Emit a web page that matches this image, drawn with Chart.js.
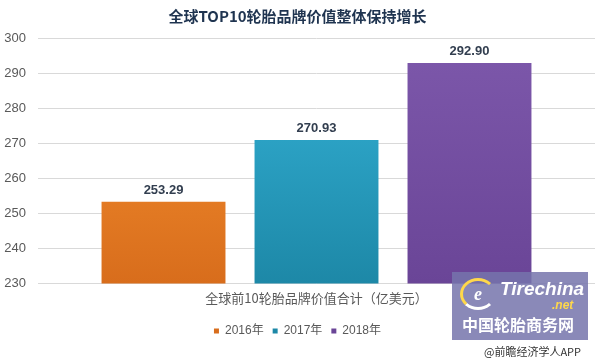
<!DOCTYPE html>
<html>
<head>
<meta charset="utf-8">
<script src="https://cdn.jsdelivr.net/npm/chart.js@4.4.0/dist/chart.umd.min.js"></script>
<style>
    body { margin: 0; background: #fff; font-family: "Noto Sans CJK SC", "Liberation Sans", sans-serif; }
    #wrap { position: relative; width: 600px; height: 361px; }
    .logo-box {
        position: absolute; left: 452px; top: 272px; width: 136px; height: 68px;
        background: rgba(118, 116, 172, 0.85);
    }
    .logo-e {
        position: absolute; left: 8px; top: 6px; width: 30px; height: 26px; border-radius: 50%;
        border: 3px solid #ffd84a; border-right-color: transparent; border-bottom-color: #fff;
        color: #fff; font: italic bold 18px "Liberation Serif", serif; text-align: center; line-height: 26px;
    }
    .logo-en {
        position: absolute; left: 48px; top: 6px; color: #fff; font: italic bold 19px "Liberation Sans", sans-serif;
    }
    .logo-en span { color: #ffd84a; font-size: 12px; position: absolute; left: 52px; top: 20px; }
    .logo-cn {
        position: absolute; left: 10px; top: 40px; color: #fff; font: bold 16px "Noto Sans CJK SC", sans-serif;
    }
    .app {
        position: absolute; left: 484px; top: 343px; color: #333; font: 11px "Noto Sans CJK SC", sans-serif;
    }
</style>
</head>
<body>
<div id="wrap">
    <canvas id="myChart" width="600" height="361"></canvas>
    <div class="logo-box">
        <div class="logo-e">e</div>
        <div class="logo-en">Tirechina<span>.net</span></div>
        <div class="logo-cn">中国轮胎商务网</div>
    </div>
    <div class="app">@前瞻经济学人APP</div>
</div>
<script>
let categories = ['全球前10轮胎品牌价值合计（亿美元）'];
let years = ['2016年', '2017年', '2018年'];
let brandValues = [253.29, 270.93, 292.90];
let yTicks = [230, 240, 250, 260, 270, 280, 290, 300];

let topColors = ['#f99532', '#35b3d8', '#7d58ab'];
let bottomColors = ['#d86d1c', '#1d88a7', '#6a4597'];

// ================================================================== Gradient
function barGradient(context, i) {
    let chart = context.chart;
    let area = chart.chartArea;
    if (!area) {
        return topColors[i];
    }
    let g = chart.ctx.createLinearGradient(0, area.top, 0, area.bottom);
    g.addColorStop(0, topColors[i]);
    g.addColorStop(1, bottomColors[i]);
    return g;
}

// ================================================================== Value labels
let valueLabels = {
    id: 'valueLabels',
    afterDatasetsDraw(chart) {
        let ctx = chart.ctx;
        ctx.save();
        ctx.font = 'bold 13px "Liberation Sans", sans-serif';
        ctx.fillStyle = '#323e4f';
        ctx.textAlign = 'center';
        ctx.textBaseline = 'bottom';
        chart.data.datasets.forEach((ds, i) => {
            let bar = chart.getDatasetMeta(i).data[0];
            ctx.fillText(ds.data[0].toFixed(2), bar.x, bar.y - 5);
        });
        ctx.restore();
    }
};

let datasets = years.map((year, i) => ({
    label: year,
    data: [brandValues[i]],
    backgroundColor: (context) => barGradient(context, i),
    borderWidth: 0
}));

new Chart(document.getElementById('myChart'), {
    type: 'bar',
    data: {
        labels: categories,
        datasets: datasets
    },
    options: {
        responsive: false,
        animation: false,
        categoryPercentage: 0.824,
        barPercentage: 0.81,
        layout: {
            padding: { left: 0, right: 5, top: 0, bottom: 14 }
        },
        plugins: {
            title: {
                display: true,
                text: '全球TOP10轮胎品牌价值整体保持增长',
                color: '#1f3450',
                font: { size: 15, weight: 'bold', family: '"Noto Sans CJK SC", sans-serif' },
                padding: { top: 7, bottom: 13 }
            },
            legend: {
                position: 'bottom',
                labels: {
                    usePointStyle: true,
                    pointStyle: 'rect',
                    boxWidth: 5,
                    boxHeight: 5,
                    color: '#595959',
                    font: { size: 12, family: '"Liberation Sans", "Noto Sans CJK SC", sans-serif' },
                    padding: 9
                }
            },
            tooltip: { enabled: false }
        },
        scales: {
            x: {
                grid: { display: false },
                border: { display: false },
                afterFit: (axis) => {
                    axis.height += 11;
                },
                ticks: {
                    color: '#595959',
                    padding: -1,
                    font: { size: 13, family: '"Noto Sans CJK SC", sans-serif' }
                }
            },
            y: {
                min: yTicks[0],
                max: yTicks[yTicks.length - 1],
                grid: { color: '#d9d9d9', drawTicks: false },
                border: { display: false },
                afterBuildTicks: (axis) => {
                    axis.ticks = yTicks.map(v => ({ value: v }));
                },
                afterFit: (axis) => {
                    axis.width = 38;
                },
                ticks: {
                    color: '#595959',
                    padding: 12,
                    font: { size: 13, family: '"Liberation Sans", sans-serif' }
                }
            }
        }
    },
    plugins: [valueLabels]
});
</script>
</body>
</html>
